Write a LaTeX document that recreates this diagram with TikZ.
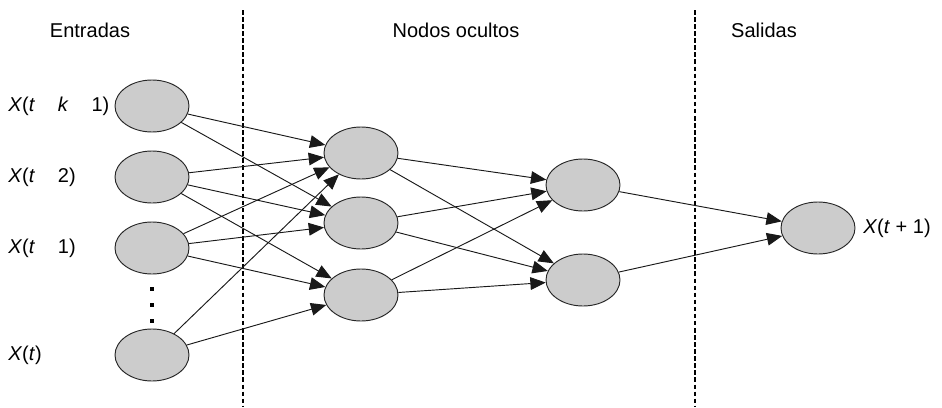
\documentclass[tikz,border=0pt]{standalone}
\usepackage{fontspec}
\setmainfont{Liberation Sans}
\usetikzlibrary{arrows.meta,shapes.geometric}
\tikzset{
  neuron/.style={draw=black!85, line width=0.7pt, fill=black!20, ellipse, minimum width=55.5pt, minimum height=39pt, inner sep=0pt},
  link/.style={draw=black!90, line width=0.7pt, -{Triangle[length=11.5pt,width=9.5pt]}},
  sep/.style={line width=2.2pt, dash pattern=on 3.4pt off 1.9pt},
  lbl/.style={font=\fontsize{15}{17}\selectfont, inner sep=0pt}
}
\begin{document}
\begin{tikzpicture}[x=0.75pt, y=-0.75pt]
\useasboundingbox (0,0) rectangle (942,407);
\draw[sep] (243,10) -- (243,407);
\draw[sep] (695,10) -- (695,407);
\node[lbl] (entradas) at (90,30) {Entradas};
\node[lbl] (ocultos) at (456,30) {Nodos ocultos};
\node[lbl] (salidas) at (764,30) {Salidas};
\node[neuron] (i1) at (152,106) {};
\node[neuron] (i2) at (152,177) {};
\node[neuron] (i3) at (152,248) {};
\node[neuron] (i4) at (152,355) {};
\node[neuron] (h1) at (361,153) {};
\node[neuron] (h2) at (361,223) {};
\node[neuron] (h3) at (361,295) {};
\node[neuron] (g1) at (583,185) {};
\node[neuron] (g2) at (583,280) {};
\node[neuron] (o) at (818,228) {};
\node[lbl, anchor=west] (x1) at (8,106) {\textit{X}(\textit{t}\phantom{ + }\textit{k}\phantom{ + }1)};
\node[lbl, anchor=west] (x2) at (8,177) {\textit{X}(\textit{t}\phantom{ + }2)};
\node[lbl, anchor=west] (x3) at (8,248) {\textit{X}(\textit{t}\phantom{ + }1)};
\node[lbl, anchor=west] (x4) at (8,355) {\textit{X}(\textit{t})};
\node[lbl, anchor=west] (xo) at (863,228) {\textit{X}(\textit{t} + 1)};
\foreach \y in {289,305,321}
  \fill (150,\y-2) rectangle (154,\y+2);
\draw[link] (i1) -- (h1);
\draw[link] (i1) -- (h2);
\draw[link] (i2) -- (h1);
\draw[link] (i2) -- (h2);
\draw[link] (i2) -- (h3);
\draw[link] (i3) -- (h1);
\draw[link] (i3) -- (h2);
\draw[link] (i3) -- (h3);
\draw[link] (i4) -- (h1);
\draw[link] (i4) -- (h3);
\draw[link] (h1) -- (g1);
\draw[link] (h1) -- (g2);
\draw[link] (h2) -- (g1);
\draw[link] (h2) -- (g2);
\draw[link] (h3) -- (g1);
\draw[link] (h3) -- (g2);
\draw[link] (g1) -- (o);
\draw[link] (g2) -- (o);
\end{tikzpicture}
\end{document}
